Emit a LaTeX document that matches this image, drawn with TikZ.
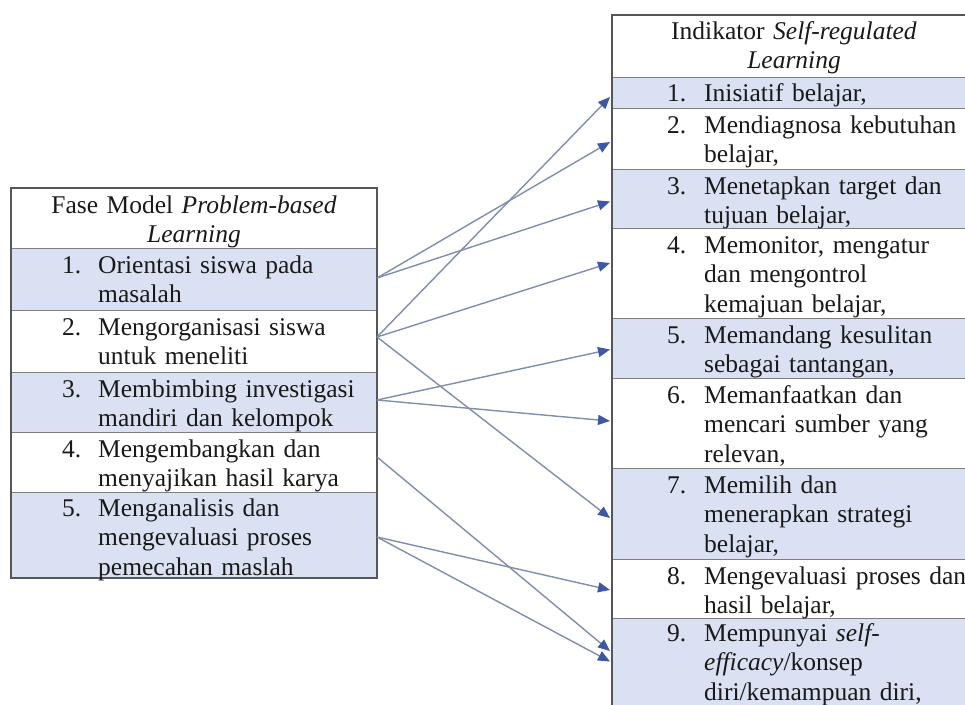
\documentclass[tikz,border=0pt]{standalone}
\usepackage{fontspec}
\setmainfont{Liberation Serif}
\usetikzlibrary{arrows.meta}
\definecolor{rowblue}{RGB}{217,225,242}
\definecolor{gridgray}{RGB}{125,125,130}
\definecolor{framegray}{RGB}{85,85,90}
\definecolor{linkgray}{RGB}{128,142,172}
\definecolor{tipblue}{RGB}{62,88,165}
\tikzset{
  cell/.style={draw=gridgray, line width=1pt, anchor=north west, inner sep=0pt, outer sep=0pt},
  shaded/.style={cell, fill=rowblue},
  plain/.style={cell, fill=white},
  tfont/.style={font=\fontsize{25.5pt}{29.5pt}\selectfont, text=black!90},
  txt/.style={tfont, anchor=base west, inner sep=0pt, text width=330pt, align=left},
  num/.style={tfont, anchor=base west, inner sep=0pt},
  head/.style={tfont, anchor=base, inner sep=0pt, text width=360pt, align=center},
  link/.style={draw=linkgray, line width=1.4pt, -{Triangle[length=12pt,width=10pt,color=tipblue]}}
}
\begin{document}
\begin{tikzpicture}[x=1pt,y=-1pt]
\useasboundingbox (0,0) rectangle (965,704);
\clip (0,0) rectangle (965,704);
\fill[white] (0,0) rectangle (965,704);

% ---------- left table ----------
\node[plain,  minimum width=366pt, minimum height=60pt] (LH) at (11,188) {};
\node[shaded, minimum width=366pt, minimum height=62pt] (L1) at (11,248) {};
\node[plain,  minimum width=366pt, minimum height=62pt] (L2) at (11,310) {};
\node[shaded, minimum width=366pt, minimum height=60pt] (L3) at (11,372) {};
\node[plain,  minimum width=366pt, minimum height=60pt] (L4) at (11,432) {};
\node[shaded, minimum width=366pt, minimum height=86pt] (L5) at (11,492) {};
\draw[framegray, line width=1.5pt] (LH.north west) rectangle (L5.south east);

\node[head] (LHt) at (194,213) {Fase Model \textit{Problem-based}\\\textit{Learning}};
\node[num] (L1n) at (62,273) {1.};
\node[txt] (L1t) at (98,273) {Orientasi siswa pada\\masalah};
\node[num] (L2n) at (62,335) {2.};
\node[txt] (L2t) at (98,335) {Mengorganisasi siswa\\untuk meneliti};
\node[num] (L3n) at (62,397) {3.};
\node[txt] (L3t) at (98,397) {Membimbing investigasi\\mandiri dan kelompok};
\node[num] (L4n) at (62,457) {4.};
\node[txt] (L4t) at (98,457) {Mengembangkan dan\\menyajikan hasil karya};
\node[num] (L5n) at (62,516) {5.};
\node[txt] (L5t) at (98,516) {Menganalisis dan\\mengevaluasi proses\\pemecahan maslah};

% ---------- right table ----------
\node[plain,  minimum width=364pt, minimum height=62pt] (RH) at (612,15) {};
\node[shaded, minimum width=364pt, minimum height=31pt] (R1) at (612,77) {};
\node[plain,  minimum width=364pt, minimum height=61pt] (R2) at (612,108) {};
\node[shaded, minimum width=364pt, minimum height=59pt] (R3) at (612,169) {};
\node[plain,  minimum width=364pt, minimum height=90pt] (R4) at (612,228) {};
\node[shaded, minimum width=364pt, minimum height=60pt] (R5) at (612,318) {};
\node[plain,  minimum width=364pt, minimum height=90pt] (R6) at (612,378) {};
\node[shaded, minimum width=364pt, minimum height=91pt] (R7) at (612,468) {};
\node[plain,  minimum width=364pt, minimum height=59pt] (R8) at (612,559) {};
\node[shaded, minimum width=364pt, minimum height=90pt] (R9) at (612,618) {};
\draw[framegray, line width=1.5pt] (R9.south west) -- (RH.north west) -- (RH.north east);

\node[head] (RHt) at (794,39) {Indikator \textit{Self-regulated}\\\textit{Learning}};
\node[num] (R1n) at (667,101) {1.};
\node[txt] (R1t) at (704,101) {Inisiatif belajar,};
\node[num] (R2n) at (667,133) {2.};
\node[txt] (R2t) at (704,133) {Mendiagnosa kebutuhan\\belajar,};
\node[num] (R3n) at (667,194) {3.};
\node[txt] (R3t) at (704,194) {Menetapkan target dan\\tujuan belajar,};
\node[num] (R4n) at (667,253) {4.};
\node[txt] (R4t) at (704,253) {Memonitor, mengatur\\dan mengontrol\\kemajuan belajar,};
\node[num] (R5n) at (667,343) {5.};
\node[txt] (R5t) at (704,343) {Memandang kesulitan\\sebagai tantangan,};
\node[num] (R6n) at (667,403) {6.};
\node[txt] (R6t) at (704,403) {Memanfaatkan dan\\mencari sumber yang\\relevan,};
\node[num] (R7n) at (667,493) {7.};
\node[txt] (R7t) at (704,493) {Memilih dan\\menerapkan strategi\\belajar,};
\node[num] (R8n) at (667,584) {8.};
\node[txt] (R8t) at (704,584) {Mengevaluasi proses dan\\hasil belajar,};
\node[num] (R9n) at (667,641) {9.};
\node[txt] (R9t) at (704,641) {Mempunyai \textit{self-}\\\textit{efficacy}/konsep\\diri/kemampuan diri,};

% ---------- connectors ----------
\draw[link] ([yshift=1pt]L1.east) -- ([xshift=-2pt,yshift=-3.5pt]R2.west);
\draw[link] ([yshift=1pt]L1.east) -- ([xshift=-2pt,yshift=-3pt]R3.west);
\draw[link] ([yshift=4pt]L2.east) -- ([xshift=-2pt,yshift=-4.5pt]R1.west);
\draw[link] ([yshift=4pt]L2.east) -- ([xshift=-2pt,yshift=10pt]R4.west);
\draw[link] ([yshift=4pt]L2.east) -- ([xshift=-2pt,yshift=-4.5pt]R7.west);
\draw[link] ([yshift=2pt]L3.east) -- ([xshift=-2pt,yshift=-1.5pt]R5.west);
\draw[link] ([yshift=2pt]L3.east) -- ([xshift=-2pt,yshift=2pt]R6.west);
\draw[link] ([yshift=5pt]L4.east) -- ([xshift=-2pt,yshift=12pt]R9.west);
\draw[link] ([yshift=-2pt]L5.east) -- ([xshift=-2pt,yshift=-1.5pt]R8.west);
\draw[link] ([yshift=-2pt]L5.east) -- ([xshift=-2pt,yshift=1.5pt]R9.west);
\end{tikzpicture}
\end{document}
